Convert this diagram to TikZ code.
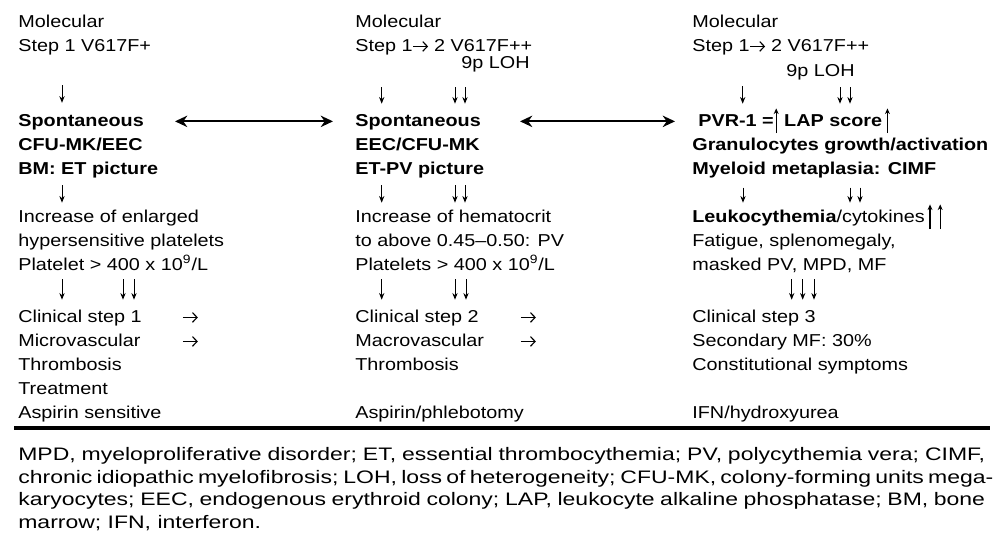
\documentclass[tikz,border=0pt]{standalone}
\usepackage{fontspec}
\setmainfont{Liberation Sans}[FakeStretch=1.15]
\newfontfamily\notefont{Liberation Sans}[FakeStretch=1.27]
\usetikzlibrary{arrows.meta}

\newcommand{\hd}[1]{\textbf{#1}}
\newcommand{\ra}{\tikz[baseline=-2.6pt]\draw[-{Straight Barb[length=2.6pt,width=5.5pt]}, line width=.65pt] (0,0) -- (8.5pt,0);}
\newcommand{\upa}{\tikz[baseline=0pt]\draw[-{Stealth[length=3.2pt,width=2.8pt]},line width=.7pt] (0,-4pt) -- (0,10pt);}

\begin{document}
\begin{tikzpicture}[x=0.02cm, y=-0.02cm,
            txt/.style={anchor=base west, inner sep=0pt, text height=8pt, text depth=2.5pt, font=\fontsize{9.8pt}{13.7pt}\selectfont},
            note/.style={anchor=base west, inner sep=0pt, font=\notefont\fontsize{10.3pt}{12.8pt}\selectfont},
            dn/.style={-{Stealth[length=3.8pt,width=3pt]}, line width=0.55pt},
            dbl/.style={{Stealth[length=7pt,width=6.5pt]}-{Stealth[length=7pt,width=6.5pt]}, line width=1pt}
            ]
            \useasboundingbox (0,0) rectangle (1000,545);

            % Column 1: ET
            \node[txt] (m1a) at (18,27) {Molecular};
            \node[txt] (m1b) at (18,51) {Step 1 V617F+};
            \node[txt] (s1a) at (18,126) {\hd{Spontaneous}};
            \node[txt] (s1b) at (18,150) {\hd{CFU-MK/EEC}};
            \node[txt] (s1c) at (18,174) {\hd{BM: ET picture}};
            \node[txt] (i1a) at (18,222) {Increase of enlarged};
            \node[txt] (i1b) at (18,246) {hypersensitive platelets};
            \node[txt] (i1c) at (18,270) {Platelet > 400 x 10\textsuperscript{9}/L};
            \node[txt] (c1a) at (18,322) {Clinical step 1};
            \node[txt] (r1a) at (182,322) {\ra};
            \node[txt] (c1b) at (18,346) {Microvascular};
            \node[txt] (r1b) at (182,346) {\ra};
            \node[txt] (c1c) at (18,370) {Thrombosis};
            \node[txt] (c1d) at (18,394) {Treatment};
            \node[txt] (c1e) at (18,418) {Aspirin sensitive};

            % Column 2: ET-PV
            \node[txt] (m2a) at (355,27) {Molecular};
            \node[txt] (m2b) at (355,51) {Step 1\ra{} 2 V617F++};
            \node[txt] (l2) at (461,68) {9p LOH};
            \node[txt] (s2a) at (355,126) {\hd{Spontaneous}};
            \node[txt] (s2b) at (355,150) {\hd{EEC/CFU-MK}};
            \node[txt] (s2c) at (355,174) {\hd{ET-PV picture}};
            \node[txt] (i2a) at (355,222) {Increase of hematocrit};
            \node[txt] (i2b) at (355,246) {to above 0.45–0.50: PV};
            \node[txt] (i2c) at (355,270) {Platelets > 400 x 10\textsuperscript{9}/L};
            \node[txt] (c2a) at (355,322) {Clinical step 2};
            \node[txt] (r2a) at (520,322) {\ra};
            \node[txt] (c2b) at (355,346) {Macrovascular};
            \node[txt] (r2b) at (520,346) {\ra};
            \node[txt] (c2c) at (355,370) {Thrombosis};
            \node[txt] (c2e) at (355,418) {Aspirin/phlebotomy};

            % Column 3: PV / CIMF
            \node[txt] (m3a) at (692,27) {Molecular};
            \node[txt] (m3b) at (692,51) {Step 1\ra{} 2 V617F++};
            \node[txt] (l3) at (786,76) {9p LOH};
            \node[txt] (p3a) at (698,126) {\hd{PVR-1 =\upa{} LAP score\,\upa}};
            \node[txt] (p3b) at (692,150) {\hd{Granulocytes growth/activation}};
            \node[txt] (p3c) at (692,174) {\hd{Myeloid metaplasia: CIMF}};
            \node[txt] (k3a) at (692,222) {\hd{Leukocythemia}/cytokines\,\upa\hspace{3pt}\upa};
            \node[txt] (k3b) at (692,246) {Fatigue, splenomegaly,};
            \node[txt] (k3c) at (692,270) {masked PV, MPD, MF};
            \node[txt] (c3a) at (692,322) {Clinical step 3};
            \node[txt] (c3b) at (692,346) {Secondary MF: 30\%};
            \node[txt] (c3c) at (692,370) {Constitutional symptoms};
            \node[txt] (c3e) at (692,418) {IFN/hydroxyurea};

            % Footnote
            \node[note] (n1) at (18,460.7) {\makebox[19.34cm][s]{MPD, myeloproliferative disorder; ET, essential thrombocythemia; PV, polycythemia vera; CIMF,}};
            \node[note] (n2) at (18,483.2) {\makebox[19.34cm][s]{chronic idiopathic myelofibrosis; LOH, loss of heterogeneity; CFU-MK, colony-forming units mega-}};
            \node[note] (n3) at (18,505.7) {\makebox[19.34cm][s]{karyocytes; EEC, endogenous erythroid colony; LAP, leukocyte alkaline phosphatase; BM, bone}};
            \node[note] (n4) at (18,528.2) {marrow; IFN, interferon.};

            % Arrows between stages
            \draw[dbl] (s1a.mid -| 175,0) -- (s2a.mid -| 333,0);
            \draw[dbl] (s2a.mid -| 520,0) -- (p3a.mid -| 675,0);

            \draw[dn, shorten <=16.8pt, shorten >=5pt] (m1b.south -| 62,0) -- (s1a.north -| 62,0);
            \draw[dn, shorten <=18pt, shorten >=4.5pt] (m2b.south -| 381.7,0) -- (s2a.north -| 381.7,0);
            \draw[dn, shorten <=8.3pt, shorten >=4.5pt] (l2.south -| 455,0) -- (s2a.north -| 455,0);
            \draw[dn, shorten <=8.3pt, shorten >=4.5pt] (l2.south -| 465,0) -- (s2a.north -| 465,0);
            \draw[dn, shorten <=17.4pt, shorten >=4.5pt] (m3b.south -| 742.7,0) -- (p3a.north -| 742.7,0);
            \draw[dn, shorten <=3.8pt, shorten >=4.5pt] (l3.south -| 840,0) -- (p3a.north -| 840,0);
            \draw[dn, shorten <=3.8pt, shorten >=4.5pt] (l3.south -| 850,0) -- (p3a.north -| 850,0);

            \draw[dn, shorten <=3.8pt, shorten >=2.8pt] (s1c.south -| 62,0) -- (i1a.north -| 62,0);
            \draw[dn, shorten <=3.8pt, shorten >=2.8pt] (s2c.south -| 381.7,0) -- (i2a.north -| 381.7,0);
            \draw[dn, shorten <=3.8pt, shorten >=2.8pt] (s2c.south -| 455,0) -- (i2a.north -| 455,0);
            \draw[dn, shorten <=3.8pt, shorten >=2.8pt] (s2c.south -| 465,0) -- (i2a.north -| 465,0);
            \draw[dn, shorten <=5pt, shorten >=2.8pt] (p3c.south -| 743,0) -- (k3a.north -| 743,0);
            \draw[dn, shorten <=5pt, shorten >=2.8pt] (p3c.south -| 850,0) -- (k3a.north -| 850,0);
            \draw[dn, shorten <=5pt, shorten >=2.8pt] (p3c.south -| 860,0) -- (k3a.north -| 860,0);

            \draw[dn, shorten <=2.6pt, shorten >=4.5pt] (i1c.south -| 62,0) -- (c1a.north -| 62,0);
            \draw[dn, shorten <=2.6pt, shorten >=4.5pt] (i1c.south -| 123,0) -- (c1a.north -| 123,0);
            \draw[dn, shorten <=2.6pt, shorten >=4.5pt] (i1c.south -| 134,0) -- (c1a.north -| 134,0);
            \draw[dn, shorten <=2.6pt, shorten >=4.5pt] (i2c.south -| 381.7,0) -- (c2a.north -| 381.7,0);
            \draw[dn, shorten <=2.6pt, shorten >=4.5pt] (i2c.south -| 455,0) -- (c2a.north -| 455,0);
            \draw[dn, shorten <=2.6pt, shorten >=4.5pt] (i2c.south -| 466,0) -- (c2a.north -| 466,0);
            \draw[dn, shorten <=2.6pt, shorten >=4.5pt] (k3c.south -| 791.7,0) -- (c3a.north -| 791.7,0);
            \draw[dn, shorten <=2.6pt, shorten >=4.5pt] (k3c.south -| 802.7,0) -- (c3a.north -| 802.7,0);
            \draw[dn, shorten <=2.6pt, shorten >=4.5pt] (k3c.south -| 814,0) -- (c3a.north -| 814,0);

            % Rule above the footnote
            \draw[line width=2pt] (14,428) -- (990,428);
        \end{tikzpicture}
\end{document}
